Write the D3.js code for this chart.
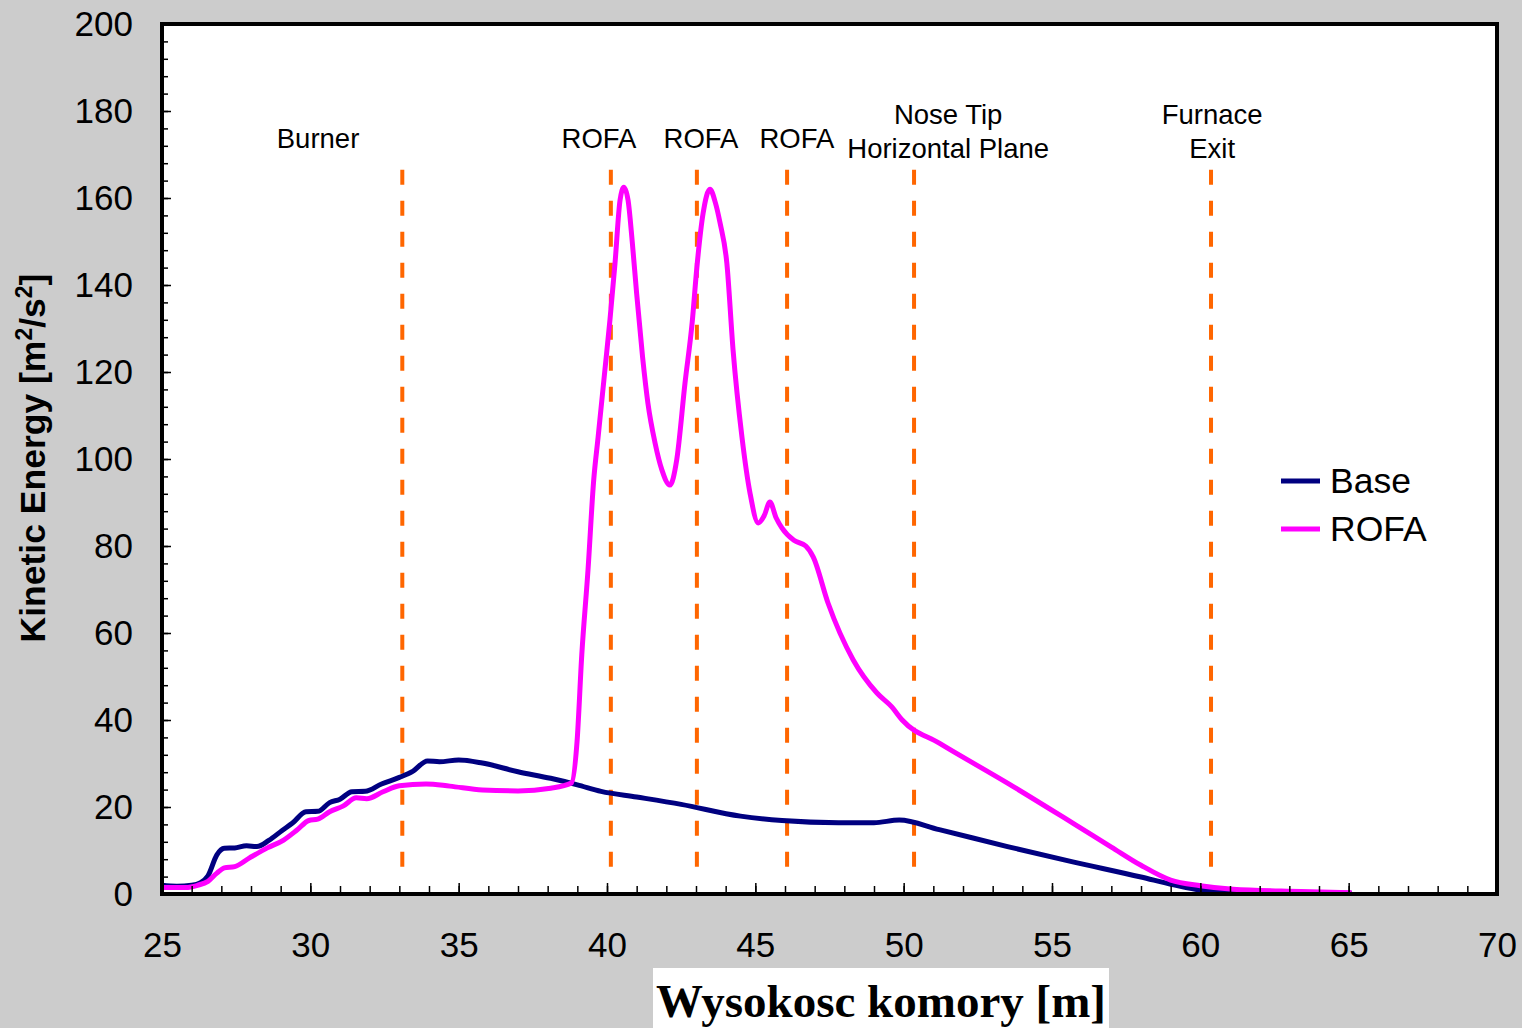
<!DOCTYPE html>
<html>
<head>
<meta charset="utf-8">
<script src="https://cdn.jsdelivr.net/npm/d3@7"></script>
<style>
  body { margin: 0; background: #cccccc; }
  svg { display: block; }
</style>
</head>
<body>
<div id="chart"></div>
<script>
// heights along the furnace [m] and kinetic energy [m2/s2]
const baseHeight = [25.0, 25.5, 26.0, 26.3, 26.55, 26.85, 27.1, 27.45, 27.85, 28.2, 28.6, 29.05, 29.4, 29.85, 30.25,
    30.65, 31.0, 31.4, 31.85, 32.4, 33.0, 33.45, 33.95, 34.35, 35.0, 35.8, 37.0, 38.1, 39.0, 39.8, 41.0, 42.5,
    44.5, 45.9, 47.8, 49.0, 49.85, 51.2, 53.5, 55.7, 58.0, 59.1, 60.0, 61.0, 63.0, 65.1];
const baseEnergy = [2.0, 1.8, 2.0, 2.6, 4.2, 9.0, 10.5, 10.6, 11.1, 10.9, 12.3, 14.6, 16.3, 18.9, 19.0,
    21.0, 21.8, 23.5, 23.6, 25.3, 26.8, 28.2, 30.6, 30.4, 30.8, 30.1, 28.1, 26.6, 25.1, 23.6, 22.3, 20.6,
    17.9, 16.9, 16.4, 16.4, 17.0, 14.8, 10.9, 7.4, 3.9, 2.1, 0.9, 0.5, 0.3, 0.2];

const rofaHeight = [25.0, 25.8, 26.2, 26.55, 26.85, 27.1, 27.45, 27.95, 28.55, 29.1, 29.55, 29.95, 30.25, 30.65,
    31.1, 31.55, 31.9, 32.45, 33.0, 33.9, 34.7, 35.8, 37.0, 38.1, 38.8, 38.99, 39.15, 39.36, 39.55, 39.7, 39.93,
    40.1, 40.27, 40.44, 40.57, 40.71, 40.85, 41.0, 41.2, 41.38, 41.62, 41.85, 42.12, 42.35, 42.63, 42.87, 43.03,
    43.24, 43.47, 43.65, 43.81, 44.04, 44.25, 44.55, 44.82, 45.1, 45.3, 45.49, 45.7, 45.9, 46.3, 46.7, 46.95,
    47.45, 48.3, 49.1, 49.6, 49.95, 51.2, 53.5, 55.7, 57.0, 58.0, 59.0, 60.0, 61.1, 63.4, 65.1];
const rofaEnergy = [1.5, 1.5, 2.0, 2.9, 4.8, 6.0, 6.3, 8.3, 10.6, 12.4, 14.7, 16.9, 17.2, 18.9,
    20.2, 22.1, 21.9, 23.5, 24.9, 25.3, 24.8, 23.9, 23.7, 24.3, 25.5, 35.0, 55.0, 74.5, 95.0, 105.0, 120.5,
    132.0, 145.0, 159.5, 162.5, 159.5, 150.0, 138.0, 123.4, 112.8, 103.7, 97.5, 94.0, 99.8, 117.5, 131.3, 144.1,
    156.5, 162.0, 159.0, 154.3, 145.0, 125.0, 105.0, 92.2, 85.3, 87.0, 90.1, 86.5, 84.1, 81.3, 80.0, 77.5,
    66.9, 53.8, 46.2, 43.0, 40.0, 34.7, 25.5, 16.3, 10.8, 6.6, 3.2, 1.9, 1.1, 0.6, 0.3];

// vertical markers
const markerHeight = [33.1, 40.13, 43.03, 46.07, 50.35, 60.36];
const markerLabels = [["Burner"], ["ROFA"], ["ROFA"], ["ROFA"], ["Nose Tip", "Horizontal Plane"], ["Furnace", "Exit"]];
const markerLabelX = [30.26, 39.73, 43.17, 46.4, 51.5, 60.4];

const seriesNames = ["Base", "ROFA"];
const seriesColors = ["#000080", "#ff00ff"];

const xTicks = d3.range(25, 71, 5);
const yTicks = d3.range(0, 201, 20);

const width = 1522, height = 1028;
const margin = { left: 162, top: 24, right: 25, bottom: 134 };
const plotW = width - margin.left - margin.right;
const plotH = height - margin.top - margin.bottom;

const svg = d3.select("#chart").append("svg")
    .attr("width", width)
    .attr("height", height);

svg.append("rect")
    .attr("width", width)
    .attr("height", height)
    .attr("fill", "#cccccc");

const x = d3.scaleLinear().domain([25, 70]).range([0, plotW]);
const y = d3.scaleLinear().domain([0, 200]).range([plotH, 0]);

const g = svg.append("g").attr("transform", `translate(${margin.left},${margin.top})`);

g.append("rect")
    .attr("width", plotW)
    .attr("height", plotH)
    .attr("fill", "#ffffff");

// dashed markers
g.selectAll(".marker")
    .data(markerHeight)
    .enter()
    .append("line")
    .attr("class", "marker")
    .attr("x1", d => x(d))
    .attr("x2", d => x(d))
    .attr("y1", y(166.5))
    .attr("y2", y(3.2))
    .attr("stroke", "#ff6600")
    .attr("stroke-width", 4)
    .attr("stroke-dasharray", "15,16");

// marker labels
markerLabels.forEach((lines, i) => {
    const t = g.append("text")
        .attr("x", x(markerLabelX[i]))
        .attr("text-anchor", "middle")
        .attr("font-family", "Liberation Sans, Arial, sans-serif")
        .attr("font-size", 27.5)
        .attr("fill", "#000");
    const top = lines.length === 1 ? 124 : 100;
    lines.forEach((s, j) => {
        t.append("tspan")
            .attr("x", x(markerLabelX[i]))
            .attr("y", top + j * 34)
            .text(s);
    });
});

const line = d3.line()
    .x(d => x(d[0]))
    .y(d => y(d[1]))
    .curve(d3.curveMonotoneX);

const series = [
    d3.zip(baseHeight, baseEnergy),
    d3.zip(rofaHeight, rofaEnergy)
];

g.selectAll(".series")
    .data(series)
    .enter()
    .append("path")
    .attr("class", "series")
    .attr("d", line)
    .attr("fill", "none")
    .attr("stroke", (d, i) => seriesColors[i])
    .attr("stroke-width", 5)
    .attr("stroke-linejoin", "round");

// axes, ticks point inward
const xMinor = g.append("g")
    .attr("transform", `translate(0,${plotH})`)
    .call(d3.axisBottom(x).tickValues(d3.range(25, 71, 1)).tickSize(-8).tickFormat(""));
const xMajor = g.append("g")
    .attr("transform", `translate(0,${plotH})`)
    .call(d3.axisBottom(x).tickValues(xTicks).tickSize(-11).tickFormat(d3.format("d")));
const yMinor = g.append("g")
    .call(d3.axisLeft(y).tickValues(d3.range(0, 201, 4)).tickSize(-6).tickFormat(""));
const yMajor = g.append("g")
    .call(d3.axisLeft(y).tickValues(yTicks).tickSize(-9).tickFormat(d3.format("d")));

[xMinor, xMajor, yMinor, yMajor].forEach(a => {
    a.select(".domain").remove();
    a.selectAll(".tick line").attr("stroke", "#000").attr("stroke-width", 1.5);
});

xMajor.selectAll("text")
    .attr("y", 38)
    .attr("font-family", "Liberation Sans, Arial, sans-serif")
    .attr("font-size", 35)
    .attr("fill", "#000");
yMajor.selectAll("text")
    .attr("x", -29)
    .attr("font-family", "Liberation Sans, Arial, sans-serif")
    .attr("font-size", 35)
    .attr("fill", "#000");

g.append("rect")
    .attr("width", plotW)
    .attr("height", plotH)
    .attr("fill", "none")
    .attr("stroke", "#000")
    .attr("stroke-width", 4);

// legend
const legend = g.append("g").attr("transform", `translate(${1281 - margin.left},${481 - margin.top})`);
seriesNames.forEach((name, i) => {
    legend.append("line")
        .attr("x1", 0).attr("x2", 39)
        .attr("y1", i * 48).attr("y2", i * 48)
        .attr("stroke", seriesColors[i])
        .attr("stroke-width", 5);
    legend.append("text")
        .attr("x", 49)
        .attr("y", i * 48)
        .attr("dy", "0.35em")
        .attr("font-family", "Liberation Sans, Arial, sans-serif")
        .attr("font-size", 35.5)
        .text(name);
});

// axis titles
const yTitle = svg.append("text")
    .attr("transform", "translate(45,458) rotate(-90)")
    .attr("text-anchor", "middle")
    .attr("font-family", "Liberation Sans, Arial, sans-serif")
    .attr("font-weight", "bold")
    .attr("font-size", 35.5);
yTitle.append("tspan").text("Kinetic Energy [m");
yTitle.append("tspan").attr("baseline-shift", "super").attr("font-size", 23).text("2");
yTitle.append("tspan").text("/s");
yTitle.append("tspan").attr("baseline-shift", "super").attr("font-size", 23).text("2");
yTitle.append("tspan").text("]");

svg.append("rect")
    .attr("x", 653).attr("y", 968)
    .attr("width", 456).attr("height", 60)
    .attr("fill", "#ffffff");
svg.append("text")
    .attr("x", 881)
    .attr("y", 1017)
    .attr("text-anchor", "middle")
    .attr("font-family", "Liberation Serif, Times New Roman, serif")
    .attr("font-weight", "bold")
    .attr("font-size", 47)
    .text("Wysokosc komory [m]");
</script>
</body>
</html>
